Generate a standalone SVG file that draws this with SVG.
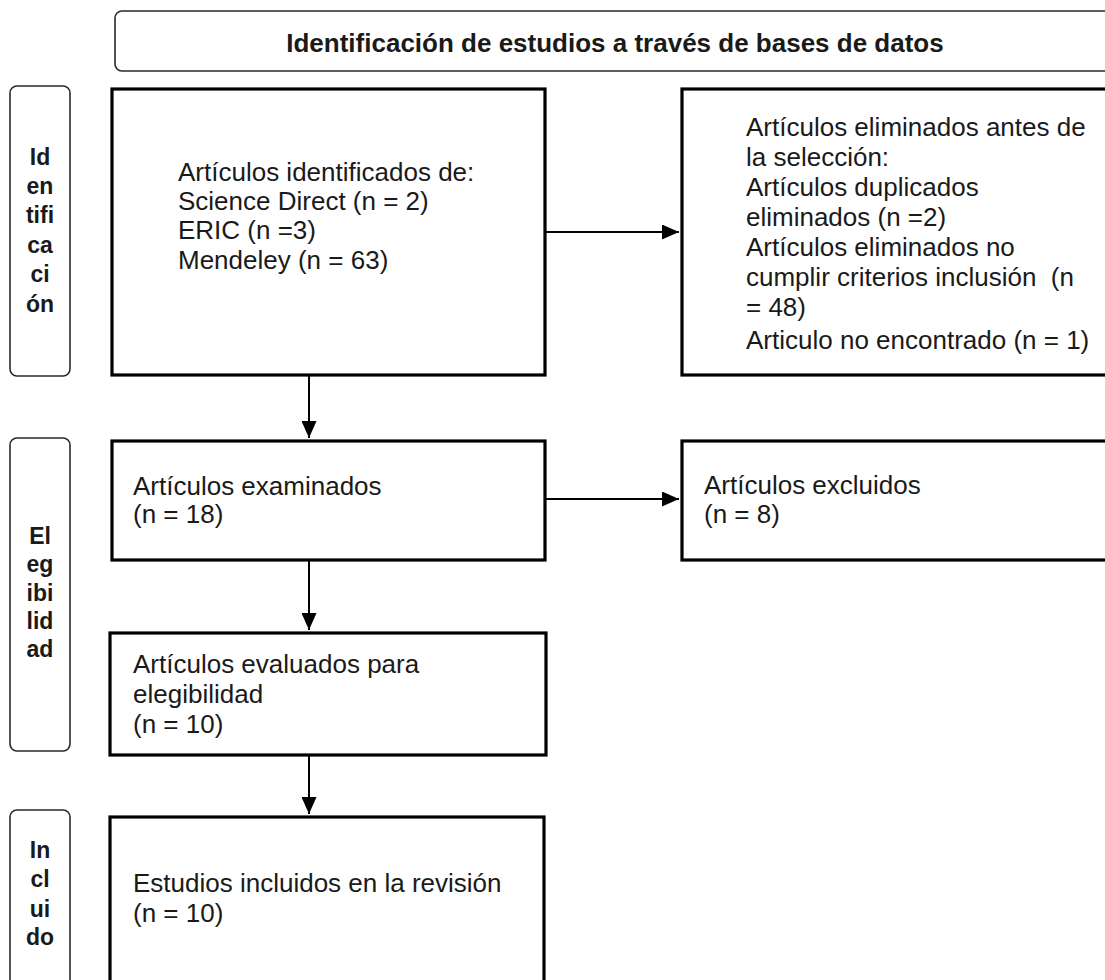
<svg xmlns="http://www.w3.org/2000/svg" width="1105" height="980" viewBox="0 0 1105 980">
<style>
.side{fill:#fff;stroke:#2a2a2a;stroke-width:1.6}
.box{fill:#fff;stroke:#000;stroke-width:3.2}
.hdr{fill:#fff;stroke:#2a2a2a;stroke-width:1.6}
.t{font-family:"Liberation Sans",Arial,sans-serif;font-size:26px;fill:#1a1a1a}
.ht{font-family:"Liberation Sans",Arial,sans-serif;font-size:26px;font-weight:bold;fill:#1a1a1a}
.st{font-family:"Liberation Sans",Arial,sans-serif;font-size:23px;font-weight:bold;fill:#1a1a1a;text-anchor:middle}
.c{stroke:#000;stroke-width:2;fill:none}
</style>
<defs>
<marker id="ah" viewBox="0 0 10 10" refX="10" refY="5" markerWidth="8.5" markerHeight="7.5" markerUnits="strokeWidth" orient="auto" preserveAspectRatio="none">
<path d="M0,0 L10,5 L0,10 Z" fill="#000"/>
</marker>
</defs>
<rect width="1105" height="980" fill="#fff"/>
<g id="header">
<rect class="hdr" x="115" y="11" width="1010" height="60" rx="7"/>
<text class="ht" x="615" y="52" text-anchor="middle">Identificación de estudios a través de bases de datos</text>
</g>
<g id="side-identificacion">
<rect class="side" x="10" y="86" width="60" height="290" rx="7"/>
<text class="st"><tspan x="40" y="165">Id</tspan><tspan x="40" y="194">en</tspan><tspan x="40" y="223">tifi</tspan><tspan x="40" y="253">ca</tspan><tspan x="40" y="282">ci</tspan><tspan x="40" y="312">ón</tspan></text>
</g>
<g id="side-elegibilidad">
<rect class="side" x="10" y="438" width="60" height="313" rx="7"/>
<text class="st"><tspan x="40" y="544">El</tspan><tspan x="40" y="572">eg</tspan><tspan x="40" y="601">ibi</tspan><tspan x="40" y="629">lid</tspan><tspan x="40" y="657">ad</tspan></text>
</g>
<g id="side-incluido">
<rect class="side" x="10" y="810" width="60" height="200" rx="7"/>
<text class="st"><tspan x="40" y="858">In</tspan><tspan x="40" y="887">cl</tspan><tspan x="40" y="917">ui</tspan><tspan x="40" y="945">do</tspan></text>
</g>
<g id="identificados">
<rect class="box" x="112" y="89" width="433" height="286"/>
<text class="t"><tspan x="178" y="181">Artículos identificados de:</tspan><tspan x="178" y="210">Science Direct (n = 2)</tspan><tspan x="178" y="239">ERIC (n =3)</tspan><tspan x="178" y="269">Mendeley (n = 63)</tspan></text>
</g>
<g id="eliminados">
<rect class="box" x="682" y="89" width="440" height="286"/>
<text class="t"><tspan x="746" y="136">Artículos eliminados antes de</tspan><tspan x="746" y="166">la selección:</tspan><tspan x="746" y="196">Artículos duplicados</tspan><tspan x="746" y="226">eliminados (n =2)</tspan><tspan x="746" y="256">Artículos eliminados no</tspan><tspan x="746" y="286">cumplir criterios inclusión&#160; (n</tspan><tspan x="746" y="316">= 48)</tspan><tspan x="746" y="349">Articulo no encontrado (n = 1)</tspan></text>
</g>
<g id="examinados">
<rect class="box" x="112" y="441" width="433" height="119"/>
<text class="t"><tspan x="133" y="495">Artículos examinados</tspan><tspan x="133" y="523">(n = 18)</tspan></text>
</g>
<g id="excluidos">
<rect class="box" x="682" y="441" width="440" height="119"/>
<text class="t"><tspan x="704" y="494">Artículos excluidos</tspan><tspan x="704" y="523">(n = 8)</tspan></text>
</g>
<g id="evaluados">
<rect class="box" x="110" y="633" width="436" height="122"/>
<text class="t"><tspan x="133" y="673">Artículos evaluados para</tspan><tspan x="133" y="703">elegibilidad</tspan><tspan x="133" y="733">(n = 10)</tspan></text>
</g>
<g id="incluidos">
<rect class="box" x="110" y="817" width="434" height="200"/>
<text class="t"><tspan x="133" y="892">Estudios incluidos en la revisión</tspan><tspan x="133" y="922">(n = 10)</tspan></text>
</g>
<g id="connectors">
<line class="c" x1="546" y1="232" x2="679" y2="232" marker-end="url(#ah)"/>
<line class="c" x1="309" y1="376" x2="309" y2="438" marker-end="url(#ah)"/>
<line class="c" x1="546" y1="499" x2="679" y2="499" marker-end="url(#ah)"/>
<line class="c" x1="309" y1="561" x2="309" y2="630" marker-end="url(#ah)"/>
<line class="c" x1="309" y1="756" x2="309" y2="814" marker-end="url(#ah)"/>
</g>
</svg>
